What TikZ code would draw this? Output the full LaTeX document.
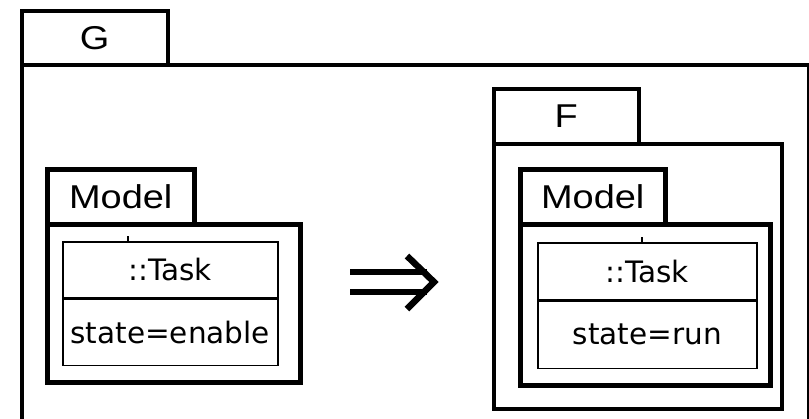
\documentclass[tikz,border=0pt]{standalone}
\usepackage{fontspec}
\setmainfont{DejaVu Sans}
\newfontfamily\tabfont[FakeStretch=1.15]{Liberation Sans}
\usetikzlibrary{positioning}

\begin{document}
\begin{tikzpicture}[x=1pt, y=-1pt,
  pkg/.style={draw, line width=3.5pt, anchor=north west, inner sep=0pt,
              font=\tabfont\fontsize{33}{33}\selectfont},
  mdl/.style={pkg, line width=4.5pt},
  cls/.style={draw, line width=1.5pt, anchor=north west, inner sep=0pt,
              font=\fontsize{29.5}{29.5}\selectfont},
  imp/.style={line width=6.5pt, line cap=butt, miter limit=10}
]
  \useasboundingbox (0,0) rectangle (809,418);

  % Outer package G
  \node[pkg, minimum width=146, minimum height=54] (gtab) at (20,9) {G};
  \node[pkg, minimum width=787, minimum height=380] (gbody) at (20,63) {};

  % Left model package
  \node[mdl, minimum width=147, minimum height=55] (ltab) at (45,167) {Model};
  \node[mdl, minimum width=253, minimum height=158] (lbody) at (45,222) {};
  \node[cls, minimum width=215, minimum height=56] (lname) at (62,241) {::Task};
  \node[cls, minimum width=215, minimum height=66, below=0pt of lname] (lattr) {state=enable};
  \coordinate (ltick) at (128,236);
  \draw[line width=1.5pt] (ltick) -- (ltick |- lname.north);

  % Implication arrow
  \coordinate (imptip) at (434,282);
  \draw[imp] (350,272) -- (427,272);
  \draw[imp] (350,292) -- (427,292);
  \draw[imp] (407,256) -- (imptip) -- (407,309);

  % Package F
  \node[pkg, minimum width=145, minimum height=55] (ftab) at (492,87) {F};
  \node[pkg, minimum width=288, minimum height=265] (fbody) at (492,142) {};

  % Right model package
  \node[mdl, minimum width=145, minimum height=55] (rtab) at (518,167) {Model};
  \node[mdl, minimum width=250, minimum height=161] (rbody) at (518,222) {};
  \node[cls, minimum width=219, minimum height=57] (rname) at (537,242) {::Task};
  \node[cls, minimum width=219, minimum height=67, below=0pt of rname] (rattr) {state=run};
  \coordinate (rtick) at (642,237);
  \draw[line width=1.5pt] (rtick) -- (rtick |- rname.north);
\end{tikzpicture}
\end{document}
